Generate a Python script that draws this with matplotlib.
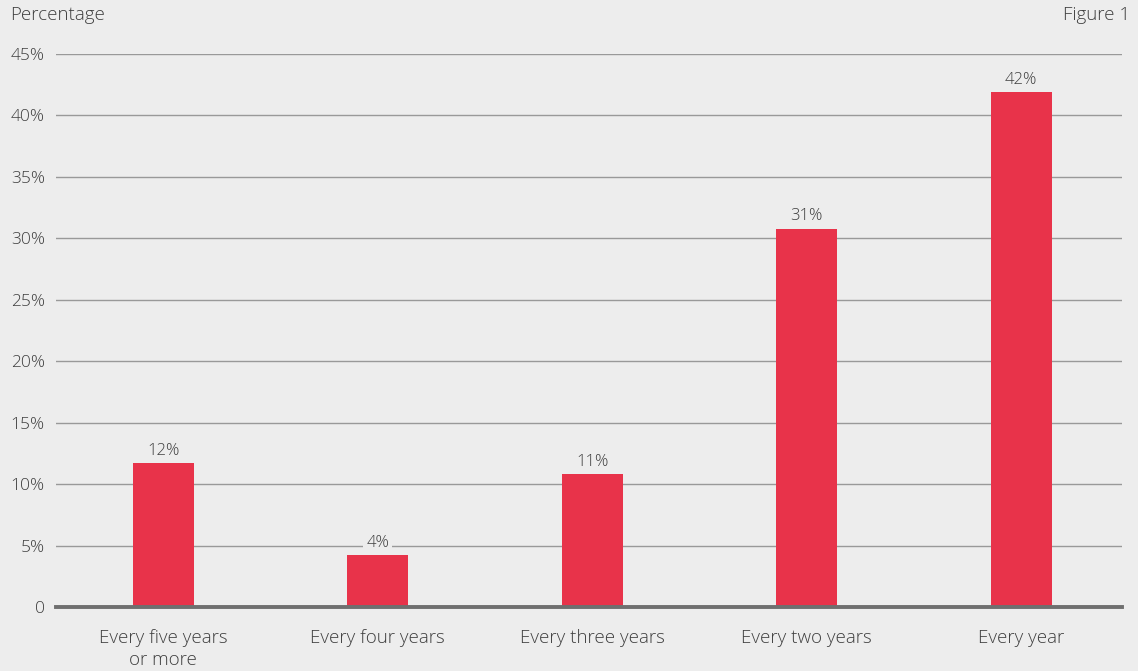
import matplotlib.pyplot as plt
from matplotlib.ticker import FuncFormatter

# survey shares by how often it happens
categories = ["Every five years\nor more", "Every four years", "Every three years",
              "Every two years", "Every year"]
shares = [11.7, 4.2, 10.8, 30.8, 41.9]

bg = "#ededed"
red = "#e8334a"
txt = "#3f3f3f"

plt.rcParams['font.family'] = ['Open Sans', 'DejaVu Sans']

fig = plt.figure(figsize=(11.38, 6.71), dpi=100, facecolor=bg)
ax = fig.add_axes([56 / 1138, 1 - 607 / 671, (1122 - 56) / 1138, (607 - 54) / 671])
ax.set_facecolor(bg)

x = range(len(categories))
ax.bar(x, shares, width=0.285, color=red, zorder=3)

for xi, v in zip(x, shares):
    ax.text(xi, v + 0.35, f"{v:.0f}%", ha="center", va="bottom", fontsize=12, color=txt,
            fontweight="light", zorder=4, bbox=dict(facecolor=bg, edgecolor="none", pad=2))

ax.set_xlim(-0.5, 4.47)
ax.set_ylim(0, 45)
ax.set_yticks(range(0, 46, 5))
ax.yaxis.set_major_formatter(FuncFormatter(lambda v, p: "0" if v == 0 else f"{v:.0f}%"))
ax.set_xticks(list(x))
ax.set_xticklabels(categories, linespacing=1.3, fontsize=13.5)
for lbl in ax.get_xticklabels() + ax.get_yticklabels():
    lbl.set_fontweight("light")

ax.grid(axis="y", color="#999999", linewidth=1, zorder=0)
ax.tick_params(axis="y", length=0, labelsize=12.5, colors=txt, pad=8)
ax.tick_params(axis="x", length=0, colors=txt, pad=16)
for s in ["top", "right", "left"]:
    ax.spines[s].set_visible(False)
ax.spines["bottom"].set_color("#6f6f6f")
ax.spines["bottom"].set_linewidth(2.8)
ax.spines["bottom"].set_zorder(5)

fig.text(10 / 1138, 1 - 15 / 671, "Percentage", fontsize=13.5, color=txt, va="center",
         ha="left", fontweight="light")
fig.text(1130 / 1138, 1 - 15 / 671, "Figure 1", fontsize=13.5, color=txt, va="center",
         ha="right", fontweight="light")

fig.savefig("out.png", dpi=100, facecolor=bg)
